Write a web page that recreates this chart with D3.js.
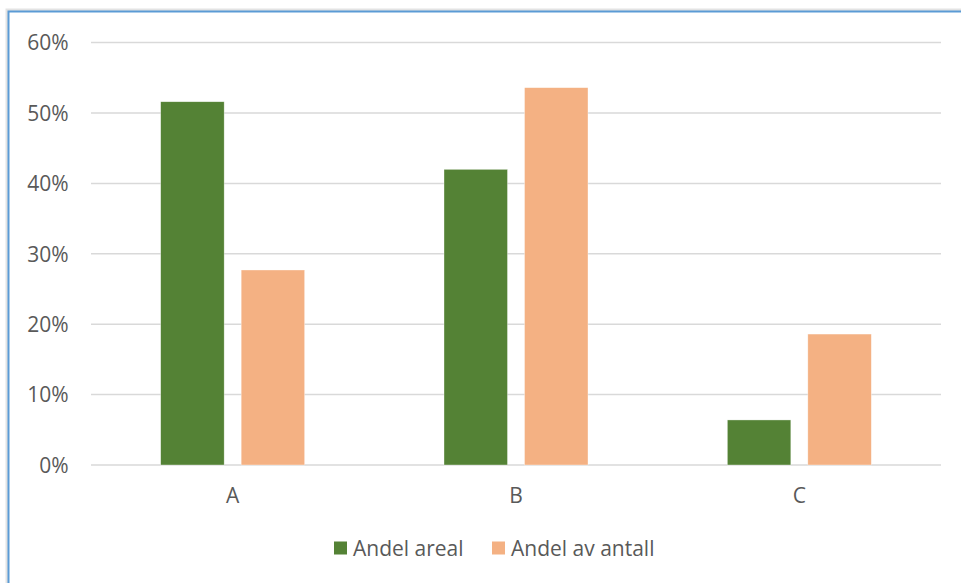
<!DOCTYPE html>
<html>
<head>
<meta charset="utf-8">
<script src="https://cdn.jsdelivr.net/npm/d3@7"></script>
<style>
  html, body { margin: 0; padding: 0; background: #fff; }
  svg { display: block; }
  text { font-family: "Open Sans", "Noto Sans", sans-serif; fill: #595959; }
</style>
</head>
<body>
<svg id="chart" width="961" height="583"></svg>
<script>
// Chart data
const categories = ["A", "B", "C"];
const seriesNames = ["Andel areal", "Andel av antall"];
const andelAreal = [0.516, 0.420, 0.064];
const andelAntall = [0.277, 0.536, 0.186];
const yTicks = [0, 0.1, 0.2, 0.3, 0.4, 0.5, 0.6];
const colors = ["#548235", "#F4B183"];

const svg = d3.select("#chart");
const FS = 21;

// Frame of the chart area (extends past the right and bottom edges)
svg.append("rect")
  .attr("x", 7.5).attr("y", 10.5)
  .attr("width", 1000).attr("height", 1000)
  .attr("fill", "none").attr("stroke", "#e3e3e3").attr("stroke-width", 4);
svg.append("rect")
  .attr("x", 8.5).attr("y", 11.5)
  .attr("width", 1000).attr("height", 1000)
  .attr("fill", "#fff").attr("stroke", "#5B9BD5").attr("stroke-width", 2);

const plot = { left: 91, right: 941, top: 42.6, bottom: 465 };

const x = d3.scaleBand().domain(categories).range([plot.left, plot.right]).paddingInner(0).paddingOuter(0);
const y = d3.scaleLinear().domain([0, 0.6]).range([plot.bottom, plot.top]);

// Gridlines
svg.append("g").selectAll("line").data(yTicks).join("line")
  .attr("x1", plot.left).attr("x2", plot.right)
  .attr("y1", d => y(d)).attr("y2", d => y(d))
  .attr("stroke", "#d9d9d9").attr("stroke-width", 1.5);

// Y-axis labels
const yAxis = d3.axisLeft(y).tickValues(yTicks).tickFormat(d3.format(".0%")).tickSize(0).tickPadding(0);
const gy = svg.append("g").attr("transform", `translate(${68.5},0)`).call(yAxis)
  .attr("font-size", FS).attr("font-family", "'Open Sans', sans-serif");
gy.select(".domain").remove();
gy.selectAll("text")
  .attr("fill", "#595959")
  .attr("dy", "0.35em");

// Bars
const barW = 63.5, gap = 17;
const data = categories.map((c, i) => ({ c, vals: [andelAreal[i], andelAntall[i]] }));
const groups = svg.append("g").selectAll("g").data(data).join("g")
  .attr("transform", d => `translate(${x(d.c) + x.bandwidth() / 2},0)`);
groups.selectAll("rect").data(d => d.vals.map((v, j) => ({ v, j }))).join("rect")
  .attr("x", d => d.j === 0 ? -(barW + gap / 2) : gap / 2)
  .attr("width", barW)
  .attr("y", d => y(d.v))
  .attr("height", d => y(0) - y(d.v))
  .attr("fill", d => colors[d.j])
  .attr("stroke", "#ffffff").attr("stroke-opacity", 0.6).attr("stroke-width", 0.6);

// Category labels
const xAxis = d3.axisBottom(x).tickSize(0).tickPadding(0);
const gx = svg.append("g").attr("transform", `translate(0,${plot.bottom})`).call(xAxis)
  .attr("font-size", FS).attr("font-family", "'Open Sans', sans-serif");
gx.select(".domain").remove();
gx.selectAll("text")
  .attr("fill", "#595959")
  .attr("dy", 0).attr("y", 38);

// Legend
const legendItems = [
  { name: seriesNames[0], color: colors[0], x: 334 },
  { name: seriesNames[1], color: colors[1], x: 492 }
];
const lg = svg.append("g").selectAll("g").data(legendItems).join("g")
  .attr("transform", d => `translate(${d.x},0)`);
lg.append("rect").attr("x", 0).attr("y", 541.5).attr("width", 13).attr("height", 13)
  .attr("fill", d => d.color);
lg.append("text").attr("x", 19).attr("y", 555.5)
  .attr("font-size", FS)
  .text(d => d.name);
</script>
</body>
</html>
